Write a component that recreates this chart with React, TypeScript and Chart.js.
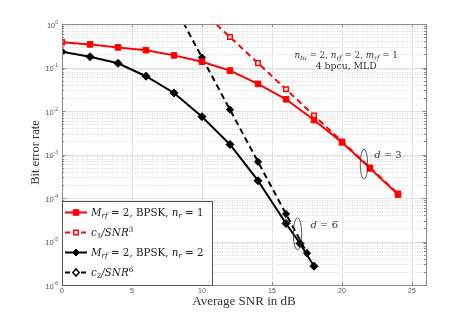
import React, { useEffect, useRef } from 'react';
import { Chart, registerables } from 'chart.js';
Chart.register(...registerables);

// ---- data ----
const snrRed = [0, 2, 4, 6, 8, 10, 12, 14, 16, 18, 20, 22, 24];
const berRed = [0.38, 0.34, 0.29, 0.25, 0.19, 0.136, 0.085, 0.042, 0.0186, 0.0062, 0.0019, 4.8e-4, 1.2e-4];
const snrC1 = [10, 12, 14, 16, 18, 20, 22, 24];
const berC1 = [2.0, 0.5, 0.126, 0.0316, 0.0079, 0.002, 5.0e-4, 1.26e-4];
const snrBlack = [0, 2, 4, 6, 8, 10, 12, 14, 16, 17, 18];
const berBlack = [0.23, 0.177, 0.125, 0.063, 0.026, 0.0074, 0.0017, 2.5e-4, 2.6e-5, 9.0e-6, 2.7e-6];
const snrC2 = [8, 10, 12, 14, 16, 17.5];
const berC2 = [2.7, 0.17, 0.0107, 6.8e-4, 4.3e-5, 5.4e-6];
const xTicks = [0, 5, 10, 15, 20, 25];
const yTickExps = [0, -1, -2, -3, -4, -5, -6];
const xTitle = 'Average SNR in dB';
const yTitle = 'Bit error rate';

type Seg = { t: string; it?: boolean; pos?: 'sub' | 'sup' };
const legendItems: { segs: Seg[]; color: string; dash: boolean; shape: 'rect' | 'diamond'; open: boolean }[] = [
  { segs: [{ t: 'M', it: true }, { t: 'rf', it: true, pos: 'sub' }, { t: ' = 2, BPSK, ' }, { t: 'n', it: true }, { t: 'r', it: true, pos: 'sub' }, { t: ' = 1' }], color: '#ff0000', dash: false, shape: 'rect', open: false },
  { segs: [{ t: 'c', it: true }, { t: '1', pos: 'sub' }, { t: '/', it: true }, { t: 'SNR', it: true }, { t: '3', pos: 'sup' }], color: '#ff0000', dash: true, shape: 'rect', open: true },
  { segs: [{ t: 'M', it: true }, { t: 'rf', it: true, pos: 'sub' }, { t: ' = 2, BPSK, ' }, { t: 'n', it: true }, { t: 'r', it: true, pos: 'sub' }, { t: ' = 2' }], color: '#000000', dash: false, shape: 'diamond', open: false },
  { segs: [{ t: 'c', it: true }, { t: '2', pos: 'sub' }, { t: '/', it: true }, { t: 'SNR', it: true }, { t: '6', pos: 'sup' }], color: '#000000', dash: true, shape: 'diamond', open: true },
];
const annoLine1: Seg[] = [{ t: 'n', it: true }, { t: 'tu', it: true, pos: 'sub' }, { t: ' = 2, ' }, { t: 'n', it: true }, { t: 'rf', it: true, pos: 'sub' }, { t: ' = 2, ' }, { t: 'm', it: true }, { t: 'rf', it: true, pos: 'sub' }, { t: ' = 1' }];
const annoLine2: Seg[] = [{ t: '4 bpcu, MLD' }];
const annoD3: Seg[] = [{ t: 'd', it: true }, { t: ' = 3' }];
const annoD6: Seg[] = [{ t: 'd', it: true }, { t: ' = 6' }];
// annotation anchors in data coordinates
const annoPos = { line1: [20.3, 0.19], line2: [20.3, 0.111], d3: [22.3, 1.0e-3], d6: [17.75, 2.4e-5] };
const ellipses = [
  { x: 21.57, y: 6.0e-4, rx: 3.7, ry: 15 },
  { x: 16.82, y: 1.5e-5, rx: 4.2, ry: 16 },
];

const SERIF = '"Liberation Serif", "Times New Roman", serif';
const MATH = '"DejaVu Serif", serif';
const SANS = '"Liberation Sans", Arial, sans-serif';

function segFont(s: Seg, size: number) {
  const sz = s.pos ? size * 0.7 : size;
  return `${s.it ? 'italic ' : ''}${sz}px ${MATH}`;
}
function richWidth(ctx: CanvasRenderingContext2D, segs: Seg[], size: number) {
  let w = 0;
  for (const s of segs) { ctx.font = segFont(s, size); w += ctx.measureText(s.t).width; }
  return w;
}
function drawRich(ctx: CanvasRenderingContext2D, segs: Seg[], x: number, y: number, size: number, align: 'left' | 'center') {
  let cx = align === 'center' ? x - richWidth(ctx, segs, size) / 2 : x;
  ctx.textAlign = 'left';
  ctx.textBaseline = 'alphabetic';
  for (const s of segs) {
    ctx.font = segFont(s, size);
    const dy = s.pos === 'sub' ? size * 0.22 : s.pos === 'sup' ? -size * 0.4 : 0;
    ctx.fillText(s.t, cx, y + dy);
    cx += ctx.measureText(s.t).width;
  }
}

function drawMarker(ctx: CanvasRenderingContext2D, shape: string, x: number, y: number, r: number, color: string, open: boolean) {
  ctx.beginPath();
  if (shape === 'rect') {
    ctx.rect(x - r, y - r, 2 * r, 2 * r);
  } else {
    ctx.moveTo(x, y - r * 1.1); ctx.lineTo(x + r, y); ctx.lineTo(x, y + r * 1.1); ctx.lineTo(x - r, y); ctx.closePath();
  }
  ctx.fillStyle = open ? '#ffffff' : color;
  ctx.fill();
  ctx.strokeStyle = color;
  ctx.lineWidth = open ? 1.5 : 1;
  ctx.setLineDash([]);
  ctx.stroke();
}

const customPlugin = {
  id: 'custom',
  beforeDatasetsDraw(chart: any) {
    const { ctx, chartArea: { left, right, top, bottom }, scales: { x, y } } = chart;
    ctx.save();
    ctx.strokeStyle = '#d2d2d2';
    ctx.lineWidth = 1;
    ctx.setLineDash([1, 1.5]);
    for (let e = -6; e < 0; e++) {
      for (let m = 2; m <= 9; m++) {
        const py = Math.round(y.getPixelForValue(m * Math.pow(10, e))) + 0.5;
        ctx.beginPath(); ctx.moveTo(left, py); ctx.lineTo(right, py); ctx.stroke();
      }
    }
    ctx.setLineDash([]);
    ctx.strokeStyle = '#e2e2e2';
    for (const e of yTickExps) {
      const py = Math.round(y.getPixelForValue(Math.pow(10, e))) + 0.5;
      ctx.beginPath(); ctx.moveTo(left, py); ctx.lineTo(right, py); ctx.stroke();
    }
    for (const v of xTicks) {
      const px = Math.round(x.getPixelForValue(v)) + 0.5;
      ctx.beginPath(); ctx.moveTo(px, top); ctx.lineTo(px, bottom); ctx.stroke();
    }
    ctx.restore();
  },
  afterDatasetsDraw(chart: any) {
    const { ctx, chartArea: { left, right, top, bottom }, scales: { x, y } } = chart;
    ctx.save();
    ctx.strokeStyle = '#8a8a8a';
    ctx.lineWidth = 1;
    ctx.setLineDash([]);
    ctx.strokeRect(Math.round(left) + 0.5, Math.round(top) + 0.5, Math.round(right - left), Math.round(bottom - top));
    ctx.beginPath();
    for (const v of xTicks) {
      const px = Math.round(x.getPixelForValue(v)) + 0.5;
      ctx.moveTo(px, bottom); ctx.lineTo(px, bottom - 3);
      ctx.moveTo(px, top); ctx.lineTo(px, top + 3);
    }
    for (let e = -6; e <= 0; e++) {
      for (let m = 1; m <= 9; m++) {
        if (e === 0 && m > 1) break;
        const py = Math.round(y.getPixelForValue(m * Math.pow(10, e))) + 0.5;
        const len = m === 1 ? 3.5 : 2;
        ctx.moveTo(left, py); ctx.lineTo(left + len, py);
        ctx.moveTo(right, py); ctx.lineTo(right - len, py);
      }
    }
    ctx.stroke();
    // tick labels
    ctx.fillStyle = '#555555';
    ctx.textBaseline = 'top';
    ctx.textAlign = 'center';
    ctx.font = `7px ${SANS}`;
    for (const v of xTicks) {
      ctx.fillText(String(v), x.getPixelForValue(v), bottom + 3);
    }
    for (const e of yTickExps) {
      const py = y.getPixelForValue(Math.pow(10, e));
      const expStr = e === 0 ? '0' : '-' + String(-e);
      ctx.font = `5px ${SANS}`;
      const ew = ctx.measureText(expStr).width;
      ctx.font = `7.5px ${SANS}`;
      const bw = ctx.measureText('10').width;
      const rx = left - 4;
      ctx.textAlign = 'left';
      ctx.textBaseline = 'middle';
      ctx.fillText('10', rx - ew - bw, py + 1.5);
      ctx.font = `5px ${SANS}`;
      ctx.fillText(expStr, rx - ew, py - 1.5);
    }
    // axis titles
    ctx.fillStyle = '#333333';
    ctx.font = `13px ${SERIF}`;
    ctx.textAlign = 'center';
    ctx.textBaseline = 'middle';
    ctx.fillText(xTitle, (left + right) / 2, bottom + 17);
    ctx.save();
    ctx.translate(left - 26, (top + bottom) / 2 - 2);
    ctx.rotate(-Math.PI / 2);
    ctx.font = `12.5px ${SERIF}`;
    ctx.fillText(yTitle, 0, 0);
    ctx.restore();
    // annotations
    ctx.fillStyle = '#333333';
    drawRich(ctx, annoLine1, x.getPixelForValue(annoPos.line1[0]), y.getPixelForValue(annoPos.line1[1]) + 3, 8.8, 'center');
    drawRich(ctx, annoLine2, x.getPixelForValue(annoPos.line2[0]), y.getPixelForValue(annoPos.line2[1]) + 3, 9.3, 'center');
    drawRich(ctx, annoD3, x.getPixelForValue(annoPos.d3[0]), y.getPixelForValue(annoPos.d3[1]) + 3.5, 10, 'left');
    drawRich(ctx, annoD6, x.getPixelForValue(annoPos.d6[0]), y.getPixelForValue(annoPos.d6[1]) + 3.5, 10, 'left');
    // ellipses
    ctx.strokeStyle = '#333333';
    ctx.lineWidth = 0.8;
    for (const el of ellipses) {
      ctx.beginPath();
      ctx.ellipse(x.getPixelForValue(el.x), y.getPixelForValue(el.y), el.rx, el.ry, 0, 0, Math.PI * 2);
      ctx.stroke();
    }
    // legend
    const lx0 = left, ly0 = 201, lx1 = 212, ly1 = bottom;
    ctx.fillStyle = '#ffffff';
    ctx.fillRect(lx0, ly0, lx1 - lx0, ly1 - ly0);
    ctx.strokeStyle = '#555555';
    ctx.lineWidth = 1;
    ctx.strokeRect(Math.round(lx0) + 0.5, ly0 + 0.5, Math.round(lx1 - lx0), Math.round(ly1 - ly0));
    const rows = [212.5, 232.5, 252.5, 272.5];
    legendItems.forEach((it, i) => {
      const ry = rows[i];
      ctx.strokeStyle = it.color;
      ctx.lineWidth = 2;
      ctx.setLineDash(it.dash ? [5, 3] : []);
      ctx.beginPath(); ctx.moveTo(lx0 + 3, ry); ctx.lineTo(lx0 + 25, ry); ctx.stroke();
      ctx.setLineDash([]);
      if (it.shape === 'rect') drawMarker(ctx, 'rect', lx0 + 14, ry, it.open ? 2.2 : 2.8, it.color, it.open);
      else drawMarker(ctx, 'diamond', lx0 + 14, ry, 3.2, it.color, it.open);
      ctx.fillStyle = '#222222';
      drawRich(ctx, it.segs, lx0 + 29, ry + 3.5, 10.3, 'left');
    });
    ctx.restore();
  },
};

export default function App() {
  const ref = useRef<HTMLCanvasElement>(null);
  useEffect(() => {
    const canvas = ref.current!;
    const mk = (xs: number[], ys: number[]) => xs.map((v, i) => ({ x: v, y: ys[i] }));
    const chart = new Chart(canvas, {
      type: 'line',
      data: {
        datasets: [
          { label: 'red', data: mk(snrRed, berRed), borderColor: '#ff0000', backgroundColor: '#ff0000', borderWidth: 2, pointStyle: 'rect', pointRadius: 4, pointBackgroundColor: '#ff0000', pointBorderColor: '#ff0000', pointBorderWidth: 1, tension: 0 },
          { label: 'c1', data: mk(snrC1, berC1), borderColor: '#ff0000', backgroundColor: '#ffffff', borderWidth: 2, borderDash: [6, 4], pointStyle: 'rect', pointRadius: 3.2, pointBackgroundColor: '#ffffff', pointBorderColor: '#ff0000', pointBorderWidth: 1.5, tension: 0 },
          { label: 'black', data: mk(snrBlack, berBlack), borderColor: '#000000', backgroundColor: '#000000', borderWidth: 2, pointStyle: 'rectRot', pointRadius: 4, pointBackgroundColor: '#000000', pointBorderColor: '#000000', pointBorderWidth: 1, tension: 0 },
          { label: 'c2', data: mk(snrC2, berC2), borderColor: '#000000', backgroundColor: '#000000', borderWidth: 2, borderDash: [6, 4], pointStyle: 'rectRot', pointRadius: 3.6, pointBackgroundColor: '#000000', pointBorderColor: '#000000', pointBorderWidth: 1, tension: 0 },
        ],
      },
      options: {
        responsive: false,
        animation: false,
        layout: { padding: { left: 62, right: 45, top: 24, bottom: 34 } },
        plugins: { legend: { display: false }, tooltip: { enabled: false } },
        scales: {
          x: { type: 'linear', min: 0, max: 26, display: false },
          y: { type: 'logarithmic', min: 1e-6, max: 1, display: false },
        },
      },
      plugins: [customPlugin],
    });
    return () => chart.destroy();
  }, []);
  return (
    <canvas
      ref={ref}
      width={471}
      height={319}
      style={{ position: 'absolute', left: 0, top: 0, width: 471, height: 319, display: 'block', background: '#ffffff' }}
    />
  );
}
